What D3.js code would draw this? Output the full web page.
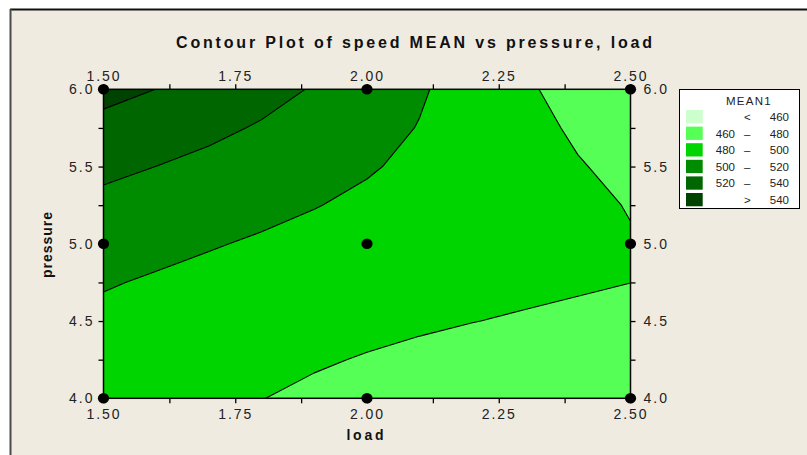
<!DOCTYPE html>
<html>
<head>
<meta charset="utf-8">
<script src="https://cdn.jsdelivr.net/npm/d3@7"></script>
<style>
  html, body { margin: 0; padding: 0; background: #ffffff; }
  svg { display: block; font-family: "Liberation Sans", Arial, Helvetica, sans-serif; }
</style>
</head>
<body>
<svg id="chart" width="807" height="455"></svg>
<script>
// ---------------- DATA ----------------
const chartTitle = "Contour Plot of speed MEAN vs pressure, load";
const xLabel = "load";
const yLabel = "pressure";
const legendTitle = "MEAN1";

// grid on which the fitted speed MEAN surface was read
const gridLoad = [1.5, 1.6, 1.7, 1.8, 1.9, 2.0, 2.1, 2.2, 2.3, 2.4, 2.5];
const gridPressure = [4.0, 4.25, 4.5, 4.75, 5.0, 5.25, 5.5, 5.75, 6.0];
// one row per pressure (4.0 .. 6.0), one value per load (1.5 .. 2.5)
const speedMean = [
  [489.65, 486.35, 483.21, 480.22, 477.42, 474.77, 472.29, 469.96, 467.81, 465.83, 464.00],
  [492.27, 489.20, 486.37, 483.74, 481.34, 479.16, 477.21, 475.47, 473.97, 472.68, 471.61],
  [496.14, 493.16, 490.41, 487.89, 485.62, 483.58, 481.78, 480.21, 478.89, 477.81, 476.96],
  [501.28, 498.21, 495.35, 492.68, 490.25, 488.01, 486.00, 484.19, 482.59, 481.21, 480.04],
  [507.68, 504.35, 501.17, 498.12, 495.23, 492.47, 489.86, 487.39, 485.07, 482.89, 480.85],
  [515.34, 511.59, 507.89, 504.20, 500.56, 496.95, 493.37, 489.83, 486.32, 482.85, 479.40],
  [524.26, 519.93, 515.49, 510.92, 506.25, 501.45, 496.53, 491.49, 486.35, 481.08, 475.69],
  [534.43, 529.36, 523.99, 518.28, 512.28, 505.96, 499.33, 492.39, 485.15, 477.59, 469.71],
  [545.87, 539.89, 533.37, 526.28, 518.68, 510.51, 501.79, 492.52, 482.73, 472.37, 461.46]
];

// design points
const designLoad = [1.5, 2.0, 2.5];
const designPressure = [4.0, 5.0, 6.0];

// contour levels and colours
const levels = [460, 480, 500, 520, 540];
const bandColors = ["#ccffcc", "#55ff55", "#00d500", "#008c00", "#006600", "#004200"];
const legendLow = ["", "460", "480", "500", "520", ""];
const legendSep = ["<", "\u2013", "\u2013", "\u2013", "\u2013", ">"];
const legendHigh = ["460", "480", "500", "520", "540", "540"];

// axis ticks
const loadMajor = [1.5, 1.75, 2.0, 2.25, 2.5];
const loadMinor = [1.625, 1.875, 2.125, 2.375];
const pressureMajor = [4.0, 4.5, 5.0, 5.5, 6.0];
const pressureMinor = [4.25, 4.75, 5.25, 5.75];

// ---------------- LAYOUT ----------------
const svg = d3.select("#chart");
const W = 807, H = 455;
const plot = { left: 103.5, right: 630.5, top: 89.3, bottom: 398.3 };

const x = d3.scaleLinear().domain([1.5, 2.5]).range([plot.left, plot.right]);
const y = d3.scaleLinear().domain([4.0, 6.0]).range([plot.bottom, plot.top]);

// panel background and border
svg.append("rect").attr("x", 0).attr("y", 0).attr("width", W).attr("height", H).attr("fill", "#ffffff");
svg.append("rect").attr("x", 11).attr("y", 10).attr("width", W - 11).attr("height", H - 10).attr("fill", "#efebe1");
svg.append("line").attr("x1", 10).attr("x2", W).attr("y1", 9.5).attr("y2", 9.5).attr("stroke", "#111").attr("stroke-width", 2);
svg.append("line").attr("x1", 10.5).attr("x2", 10.5).attr("y1", 9).attr("y2", H).attr("stroke", "#4a4a4a").attr("stroke-width", 2);

// title
svg.append("text")
  .attr("x", 414).attr("y", 48)
  .attr("text-anchor", "middle")
  .attr("font-size", 16).attr("font-weight", "bold").attr("fill", "#111")
  .attr("textLength", 476).attr("lengthAdjust", "spacing")
  .text(chartTitle);

// ---------------- CONTOURS ----------------
const nx = gridLoad.length, ny = gridPressure.length;
const values = [];
for (let j = 0; j < ny; j++) for (let i = 0; i < nx; i++) values.push(speedMean[j][i]);

const dLoad = gridLoad[1] - gridLoad[0];
const dPres = gridPressure[1] - gridPressure[0];
const proj = d3.geoTransform({
  point: function (cx, cy) {
    const ld = gridLoad[0] + dLoad * (cx - 0.5);
    const pr = gridPressure[0] + dPres * (cy - 0.5);
    this.stream.point(x(ld), y(pr));
  }
});
const path = d3.geoPath(proj);

const contours = d3.contours().size([nx, ny]).thresholds(levels)(values);

svg.append("clipPath").attr("id", "plotClip")
  .append("rect")
  .attr("x", plot.left).attr("y", plot.top)
  .attr("width", plot.right - plot.left).attr("height", plot.bottom - plot.top);

const gC = svg.append("g").attr("clip-path", "url(#plotClip)");
gC.append("rect")
  .attr("x", plot.left).attr("y", plot.top)
  .attr("width", plot.right - plot.left).attr("height", plot.bottom - plot.top)
  .attr("fill", bandColors[0]);
gC.selectAll("path.band").data(contours).join("path")
  .attr("class", "band")
  .attr("d", path)
  .attr("fill", (d, i) => bandColors[i + 1])
  .attr("stroke", "none");
gC.selectAll("path.line").data(contours).join("path")
  .attr("class", "line")
  .attr("d", path)
  .attr("fill", "none")
  .attr("stroke", "#000")
  .attr("stroke-width", 1.1)
  .attr("stroke-linejoin", "round");

// frame
svg.append("rect")
  .attr("x", plot.left).attr("y", plot.top)
  .attr("width", plot.right - plot.left).attr("height", plot.bottom - plot.top)
  .attr("fill", "none").attr("stroke", "#000").attr("stroke-width", 1.5);

// ---------------- AXES ----------------
function styleAxis(g) {
  g.select(".domain").remove();
  g.selectAll(".tick line").attr("stroke", "#000").attr("stroke-width", 1.3);
  g.selectAll(".tick text")
    .attr("font-size", 14).attr("fill", "#222")
    .attr("font-family", "'Liberation Sans', Arial, sans-serif")
    .style("letter-spacing", "2px");
}
const tickLen = 5;
const allLoad = loadMajor.concat(loadMinor);
const allPres = pressureMajor.concat(pressureMinor);
const fmtX = v => loadMajor.includes(v) ? d3.format(".2f")(v) : "";
const fmtY = v => pressureMajor.includes(v) ? d3.format(".1f")(v) : "";

svg.append("g").attr("transform", `translate(0,${plot.bottom})`)
  .call(d3.axisBottom(x).tickValues(allLoad).tickFormat(fmtX).tickSize(tickLen).tickPadding(6))
  .call(styleAxis);
svg.append("g").attr("transform", `translate(0,${plot.top})`)
  .call(d3.axisTop(x).tickValues(allLoad).tickFormat(fmtX).tickSize(tickLen).tickPadding(3))
  .call(styleAxis);
svg.append("g").attr("transform", `translate(${plot.left},0)`)
  .call(d3.axisLeft(y).tickValues(allPres).tickFormat(fmtY).tickSize(tickLen).tickPadding(4))
  .call(styleAxis);
svg.append("g").attr("transform", `translate(${plot.right},0)`)
  .call(d3.axisRight(y).tickValues(allPres).tickFormat(fmtY).tickSize(tickLen).tickPadding(8))
  .call(styleAxis);

// axis titles
svg.append("text")
  .attr("x", 365).attr("y", 440)
  .attr("text-anchor", "middle")
  .attr("font-size", 14).attr("font-weight", "bold").attr("fill", "#111")
  .attr("textLength", 37).attr("lengthAdjust", "spacing")
  .text(xLabel);
svg.append("text")
  .attr("transform", "translate(52,245) rotate(-90)")
  .attr("text-anchor", "middle")
  .attr("font-size", 14).attr("font-weight", "bold").attr("fill", "#111")
  .attr("textLength", 66).attr("lengthAdjust", "spacing")
  .text(yLabel);

// ---------------- DESIGN POINTS ----------------
const pts = [];
designPressure.forEach(p => designLoad.forEach(l => pts.push({ l, p })));
svg.append("g").selectAll("ellipse").data(pts).join("ellipse")
  .attr("cx", d => x(d.l)).attr("cy", d => y(d.p))
  .attr("rx", 5.6).attr("ry", 5.2)
  .attr("fill", "#000");

// ---------------- LEGEND ----------------
const lg = svg.append("g");
lg.append("rect")
  .attr("x", 679.5).attr("y", 89.5).attr("width", 120).attr("height", 119)
  .attr("fill", "#ffffff").attr("stroke", "#000").attr("stroke-width", 1);
lg.append("text")
  .attr("x", 749).attr("y", 105)
  .attr("text-anchor", "middle")
  .attr("font-size", 11.5).attr("fill", "#222")
  .style("letter-spacing", "1.3px")
  .text(legendTitle);
const rowY = i => 116.7 + i * 16.6;
bandColors.forEach((c, i) => {
  lg.append("rect")
    .attr("x", 686).attr("y", rowY(i) - 6.7).attr("width", 16.7).attr("height", 13.3)
    .attr("fill", c);
  lg.append("text")
    .attr("x", 735).attr("y", rowY(i) + 4.2)
    .attr("text-anchor", "end").attr("font-size", 11.5).attr("fill", "#222")
    .text(legendLow[i]);
  lg.append("text")
    .attr("x", 747.3).attr("y", rowY(i) + 4.2)
    .attr("text-anchor", "middle").attr("font-size", 11.5).attr("fill", "#222")
    .text(legendSep[i]);
  lg.append("text")
    .attr("x", 789).attr("y", rowY(i) + 4.2)
    .attr("text-anchor", "end").attr("font-size", 11.5).attr("fill", "#222")
    .text(legendHigh[i]);
});
</script>
</body>
</html>
